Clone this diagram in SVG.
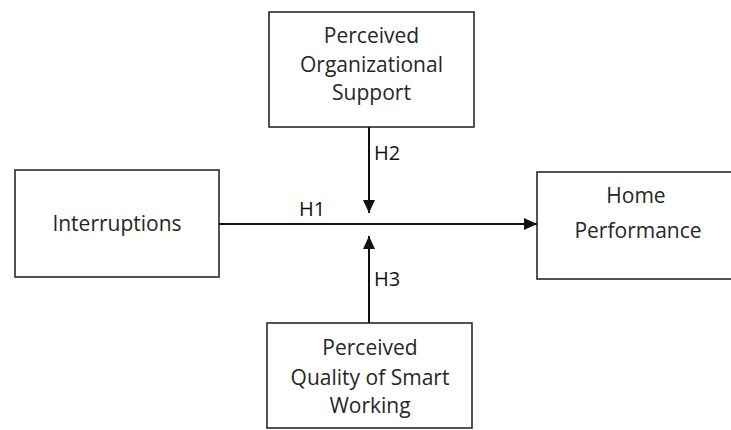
<svg xmlns="http://www.w3.org/2000/svg" width="731" height="430" viewBox="0 0 731 430">
<style>
.box{fill:#fff;stroke:#2a2a2a;stroke-width:1.6}
.t{font-family:"Open Sans","Liberation Sans",sans-serif;font-size:21px;fill:#262626;text-anchor:middle}
.lbl{font-family:"Open Sans","Liberation Sans",sans-serif;font-size:20px;fill:#111}
.ln{stroke:#111;stroke-width:2;fill:none}
</style>
<defs>
<marker id="ah" viewBox="0 0 13 12" refX="13" refY="6" markerWidth="13" markerHeight="12" markerUnits="userSpaceOnUse" orient="auto">
<path d="M0,0 L13,6 L0,12 Z" fill="#111"/>
</marker>
</defs>
<rect width="731" height="430" fill="#fff"/>
<g id="pos">
<rect class="box" x="269" y="12" width="205" height="115"/>
<text class="t" x="371.5" y="43">Perceived</text>
<text class="t" x="371.5" y="72">Organizational</text>
<text class="t" x="371.5" y="100">Support</text>
</g>
<g id="interruptions">
<rect class="box" x="15" y="170" width="204" height="107"/>
<text class="t" x="117" y="231">Interruptions</text>
</g>
<g id="home">
<rect class="box" x="537" y="172" width="200" height="107"/>
<text class="t" x="636" y="203">Home</text>
<text class="t" x="638" y="238">Performance</text>
</g>
<g id="pqsw">
<rect class="box" x="267" y="323" width="205" height="105"/>
<text class="t" x="370" y="355">Perceived</text>
<text class="t" x="370" y="385">Quality of Smart</text>
<text class="t" x="370" y="413">Working</text>
</g>
<g id="connectors">
<line class="ln" x1="219" y1="224" x2="537" y2="224" marker-end="url(#ah)"/>
<line class="ln" x1="369" y1="127" x2="369" y2="213" marker-end="url(#ah)"/>
<line class="ln" x1="369" y1="323" x2="369" y2="236" marker-end="url(#ah)"/>
<text class="lbl" x="299" y="216">H1</text>
<text class="lbl" x="374" y="160">H2</text>
<text class="lbl" x="374" y="286">H3</text>
</g>
</svg>
